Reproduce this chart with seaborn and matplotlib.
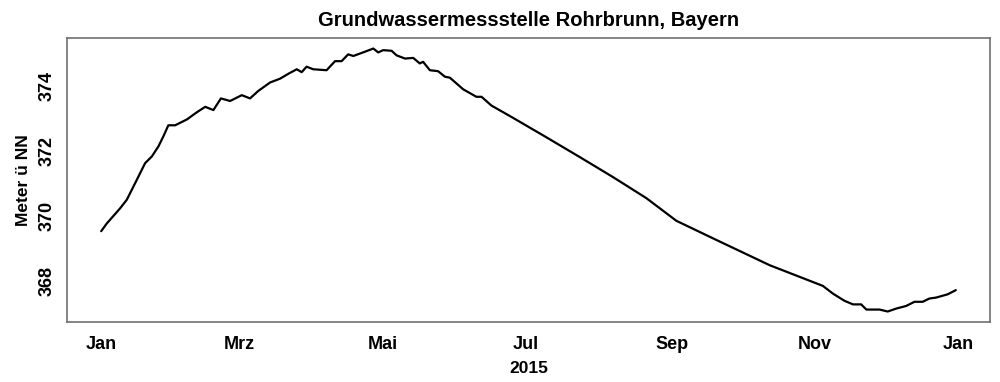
import numpy as np
import pandas as pd
import matplotlib
matplotlib.use("Agg")
import matplotlib.pyplot as plt
import matplotlib.dates as mdates
import seaborn as sns

# Day of year 2015 (0 = 1 Jan) and groundwater level (m above NN)
day = [0, 2.4, 5.2, 8.1, 10.9, 15.2, 18.7, 21.6, 24.4, 26.5, 28.6, 31.5, 36.5,
       40.7, 44.3, 47.8, 51, 54.9, 59.9, 63.4, 66.9, 71.9, 76.2, 79.7, 83.3,
       85.4, 87.5, 90.3, 96, 99.6, 102.4, 105.2, 107.4, 112.3, 115.9, 118,
       120.1, 123.7, 125.8, 129.4, 132.9, 135.7, 137.1, 140, 143.5, 146.4,
       148.5, 154.2, 159.8, 162, 166.2, 175.4, 189.6, 203.8, 218, 232.2,
       245, 262, 284.7, 307.4, 311.7, 316.6, 320.2, 323.7, 325.9, 331.5,
       335, 338.6, 342.8, 346.4, 349.9, 352.7, 355.6, 360.5, 364]
level = [369.53, 369.77, 370.00, 370.24, 370.50, 371.12, 371.63, 371.84,
         372.15, 372.46, 372.80, 372.80, 372.98, 373.20, 373.37, 373.27,
         373.63, 373.55, 373.73, 373.63, 373.86, 374.12, 374.24, 374.39,
         374.53, 374.44, 374.61, 374.53, 374.50, 374.78, 374.78, 374.99,
         374.94, 375.07, 375.17, 375.05, 375.12, 375.10, 374.96, 374.86,
         374.88, 374.71, 374.76, 374.50, 374.47, 374.30, 374.27, 373.91,
         373.68, 373.68, 373.41, 373.03, 372.43, 371.82, 371.20, 370.55,
         369.85, 369.26, 368.48, 367.84, 367.60, 367.38, 367.27, 367.27,
         367.11, 367.11, 367.05, 367.14, 367.22, 367.35, 367.35, 367.45,
         367.48, 367.58, 367.71]

tick_dates = ["2015-01-01", "2015-03-01", "2015-05-01", "2015-07-01",
              "2015-09-01", "2015-11-01", "2016-01-01"]
tick_labels = ["Jan", "Mrz", "Mai", "Jul", "Sep", "Nov", "Jan"]
y_ticks = [368, 370, 372, 374]

start = pd.Timestamp("2015-01-01")
df = pd.DataFrame({"date": start + pd.to_timedelta(day, unit="D"),
                   "level": level})

sns.set_style("white")
plt.rcParams["font.family"] = ["Liberation Sans", "DejaVu Sans"]
plt.rcParams["font.weight"] = "bold"
plt.rcParams["text.color"] = "black"
plt.rcParams["axes.labelcolor"] = "black"

fig = plt.figure(figsize=(10, 3.82), dpi=100)
ax = fig.add_axes([0.067, 0.157, 0.923, 0.7435])

sns.lineplot(data=df, x="date", y="level", ax=ax, color="black", linewidth=1.6)

span = day[-1] - day[0]
ax.set_xlim(start + pd.Timedelta(days=day[0] - 0.04 * span),
            start + pd.Timedelta(days=day[-1] + 0.04 * span))
yr = max(level) - min(level)
ax.set_ylim(min(level) - 0.04 * yr, max(level) + 0.04 * yr)

ax.set_xticks(pd.to_datetime(tick_dates))
ax.set_xticklabels(tick_labels)
ax.set_yticks(y_ticks)
ax.set_yticklabels([str(v) for v in y_ticks], rotation=90, va="center")

for s in ax.spines.values():
    s.set_color("#707070")
    s.set_linewidth(1.2)
ax.tick_params(axis="both", direction="out", length=5, width=1.2,
               color="#707070", labelsize=13, labelcolor="black", pad=5)
ax.tick_params(axis="y", pad=3)

ax.set_title("Grundwassermessstelle Rohrbrunn, Bayern", fontsize=14.5,
             fontweight="bold", color="black", pad=9)
ax.set_xlabel("2015", fontsize=12.5, fontweight="bold", color="black", labelpad=6)
ax.set_ylabel("Meter ü NN", fontsize=12.5, fontweight="bold", color="black", labelpad=6)

fig.savefig("out.png", dpi=100)
